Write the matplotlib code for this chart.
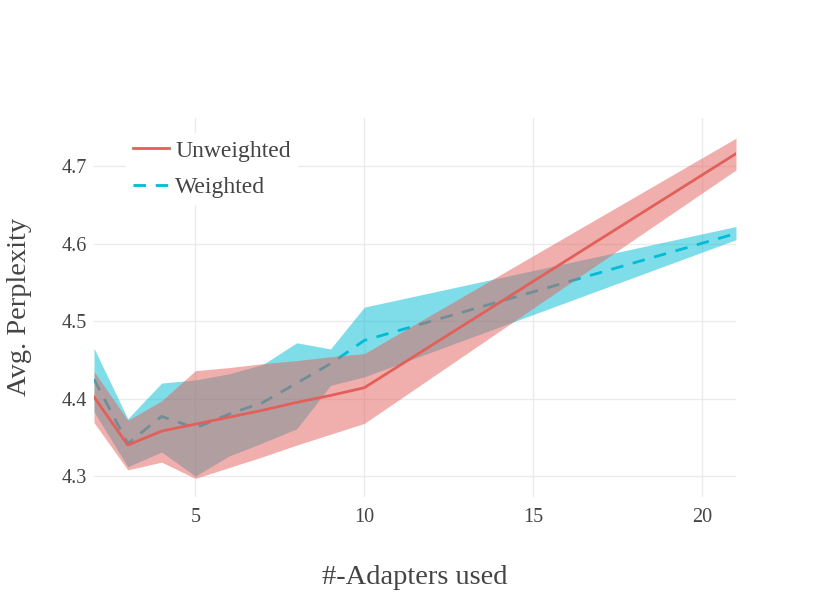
import matplotlib.pyplot as plt

# Values
x = [2, 3, 4, 5, 6, 7, 8, 9, 10, 21]

unw_mean = [4.402, 4.340, 4.358, 4.367, 4.376, 4.385, 4.395, 4.404, 4.414, 4.716]
unw_upper = [4.435, 4.372, 4.397, 4.436, 4.440, 4.445, 4.449, 4.454, 4.458, 4.736]
unw_lower = [4.369, 4.308, 4.318, 4.297, 4.311, 4.325, 4.340, 4.354, 4.368, 4.695]

w_mean = [4.425, 4.342, 4.377, 4.362, 4.380, 4.395, 4.420, 4.445, 4.475, 4.613]
w_upper = [4.465, 4.374, 4.420, 4.424, 4.432, 4.444, 4.472, 4.464, 4.518, 4.622]
w_lower = [4.383, 4.312, 4.331, 4.300, 4.326, 4.343, 4.361, 4.417, 4.428, 4.605]

x_ticks = [5, 10, 15, 20]
y_ticks = [4.3, 4.4, 4.5, 4.6, 4.7]

RED = '#e3605a'
CYAN = '#00bcd4'
TEXT = '#444444'

plt.rcParams['font.family'] = ['Liberation Serif', 'DejaVu Serif']

fig = plt.figure(figsize=(8.3, 5.93), dpi=100)
# plot area in pixels: left 94, right 736, top 118, bottom 497
ax = fig.add_axes([94 / 830, 1 - 497 / 593, (736 - 94) / 830, (497 - 118) / 593])

# weighted first, unweighted drawn on top
ax.fill_between(x, w_lower, w_upper, color=CYAN, alpha=0.5, linewidth=0, zorder=2)
ax.plot(x, w_mean, color=CYAN, linewidth=2.0, dashes=(4.5, 3.5), label='Weighted', zorder=3)
ax.fill_between(x, unw_lower, unw_upper, color=RED, alpha=0.5, linewidth=0, zorder=4)
ax.plot(x, unw_mean, color=RED, linewidth=2.0, label='Unweighted', zorder=5)

ax.set_xlim(2, 21)
ax.set_ylim(4.273, 4.762)
ax.set_xticks(x_ticks)
ax.set_yticks(y_ticks)
ax.set_yticklabels([f'{v:.1f}' for v in y_ticks])
ax.tick_params(length=0, labelsize=14.5, colors=TEXT)
ax.tick_params(axis='y', pad=5)
ax.tick_params(axis='x', pad=8)
ax.grid(True, color='#ebebeb', linewidth=1.0)
ax.set_axisbelow(True)
for s in ax.spines.values():
    s.set_visible(False)

fig.text(415 / 830, 1 - 578 / 593, '#-Adapters used', ha='center', va='center',
         fontsize=20.5, color=TEXT)
fig.text(20 / 830, 1 - 307 / 593, 'Avg. Perplexity', ha='center', va='center',
         rotation=90, fontsize=20.5, color=TEXT)

handles, labels = ax.get_legend_handles_labels()
leg = ax.legend(handles[::-1], labels[::-1], loc='upper left',
                bbox_to_anchor=(126 / 830, 1 - 133 / 593), bbox_transform=fig.transFigure,
                frameon=True, fancybox=False, facecolor='white', edgecolor='none',
                framealpha=1, fontsize=17, handlelength=1.5, handletextpad=0.28,
                labelspacing=0.62, borderpad=0.3, borderaxespad=0)
for t in leg.get_texts():
    t.set_color(TEXT)
leg.set_zorder(10)

fig.savefig('out.png', dpi=100)
